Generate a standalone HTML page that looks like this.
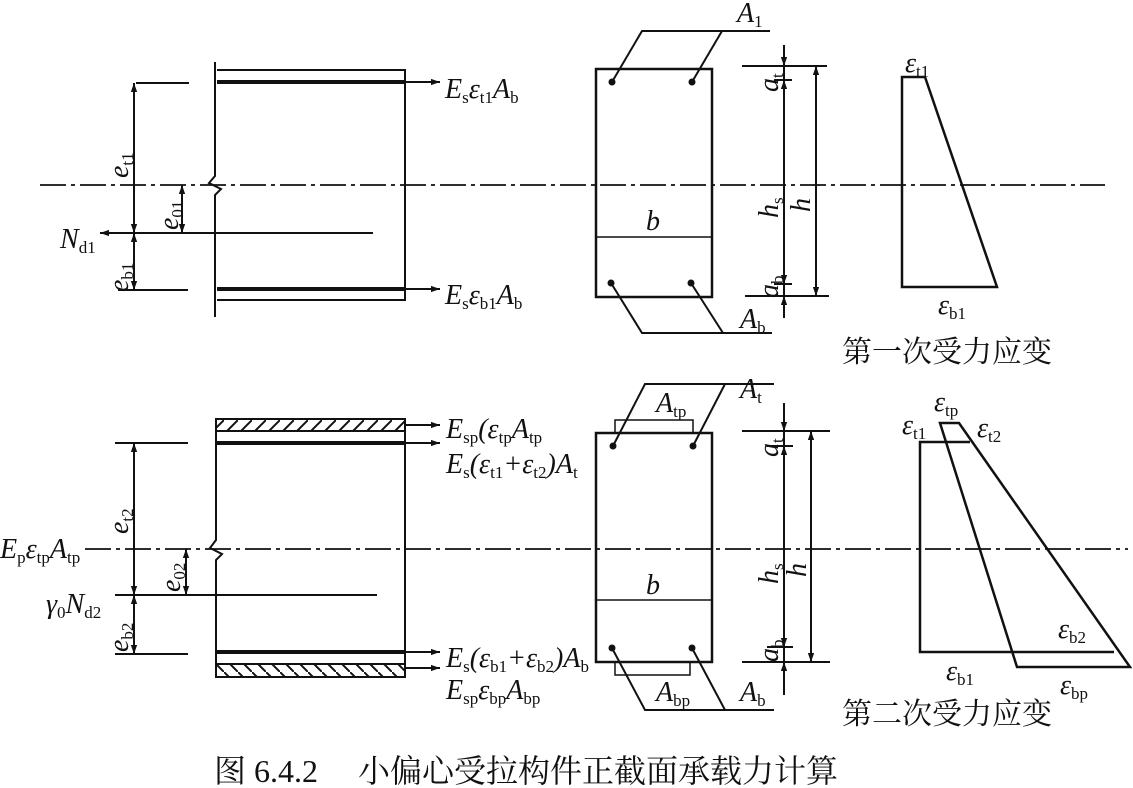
<!DOCTYPE html>
<html><head><meta charset="utf-8"><style>
html,body{margin:0;padding:0;background:#fff;}
svg{display:block;}
.v{font-family:"Liberation Serif",serif;font-style:italic;font-size:28px;fill:#111;}
.s{font-size:17px;font-style:normal;}
.c{font-family:"Liberation Serif","Noto Serif CJK SC",serif;font-size:30px;fill:#111;}
</style></head><body>
<svg width="1133" height="788" viewBox="0 0 1133 788" xmlns="http://www.w3.org/2000/svg">
<defs>
<marker id="a" viewBox="0 0 10 10" refX="10" refY="5" markerWidth="9" markerHeight="9" orient="auto-start-reverse" markerUnits="userSpaceOnUse"><path d="M0,1.5L10,5L0,8.5z" fill="#111"/></marker>
<pattern id="h" width="14" height="14" patternUnits="userSpaceOnUse"><path d="M0,14L14,0" stroke="#111" stroke-width="2"/></pattern>
<pattern id="h2" width="14" height="14" patternUnits="userSpaceOnUse"><path d="M0,0L14,14" stroke="#111" stroke-width="2"/></pattern>
</defs>
<g stroke="#111" fill="none" stroke-width="2">
<path d="M40,185H1105" stroke-dasharray="26,5,4,5" stroke-width="1.8"/>
<path d="M85,549H1128" stroke-dasharray="26,5,4,5" stroke-width="1.8"/>

<path d="M215,62V176l-6,7l12,6l-6,6V317"/>
<path d="M217,70H405V300H217"/>
<path d="M217,82H405" stroke-width="4"/>
<path d="M217,289H405" stroke-width="4"/>
<path d="M405,82H440" marker-end="url(#a)"/>
<path d="M405,289H440" marker-end="url(#a)"/>
<path d="M136,83H189M118,290H188"/>
<path d="M134,83V290" />
<path d="M134,90V83" marker-end="url(#a)"/>
<path d="M134,222V233" marker-end="url(#a)"/>
<path d="M134,242V233" marker-end="url(#a)"/>
<path d="M134,280V290" marker-end="url(#a)"/>
<path d="M182,185V233"/>
<path d="M182,195V185" marker-end="url(#a)"/>
<path d="M182,222V233" marker-end="url(#a)"/>
<path d="M373,233H100" marker-end="url(#a)"/>

<rect x="596" y="69" width="116" height="228" stroke-width="2.5"/>
<path d="M596,237H712" stroke-width="1.5"/>
<path d="M612,82L642,31H770M692,82L722,31"/>
<path d="M611,283L642,333H772M691,283L723,333"/>
<path d="M742,66H827M745,296H829M774,80H792M774,284H792"/>
<path d="M784,45V318"/>
<path d="M784,56V66" marker-end="url(#a)"/>
<path d="M784,90V80" marker-end="url(#a)"/>
<path d="M784,274V284" marker-end="url(#a)"/>
<path d="M784,306V296" marker-end="url(#a)"/>
<path d="M816,66V296" marker-start="url(#a)" marker-end="url(#a)"/>
<path d="M902,77H925L997,287H902Z" stroke-width="2.5"/>

<rect x="216" y="419" width="189" height="12" fill="url(#h)"/>
<rect x="216" y="664" width="189" height="13" fill="url(#h2)"/>
<path d="M216,431V540l-6,8l12,6l-6,6V664"/>
<path d="M405,431V664"/>
<path d="M216,443H405" stroke-width="4"/>
<path d="M216,652H405" stroke-width="4"/>
<path d="M405,425H440" marker-end="url(#a)"/>
<path d="M405,443H440" marker-end="url(#a)"/>
<path d="M405,652H440" marker-end="url(#a)"/>
<path d="M405,668H440" marker-end="url(#a)"/>
<path d="M115,443H188M115,654H188"/>
<path d="M134,443V654"/>
<path d="M134,452V443" marker-end="url(#a)"/>
<path d="M134,585V595" marker-end="url(#a)"/>
<path d="M134,605V595" marker-end="url(#a)"/>
<path d="M134,644V654" marker-end="url(#a)"/>
<path d="M186,549V595"/>
<path d="M186,559V549" marker-end="url(#a)"/>
<path d="M186,585V595" marker-end="url(#a)"/>
<path d="M115,595H377"/>

<rect x="596" y="433" width="116" height="229" stroke-width="2.5"/>
<path d="M615,433V420H693V433" stroke-width="1.5"/>
<path d="M615,662V675H690V662" stroke-width="1.5"/>
<path d="M596,600H712" stroke-width="1.5"/>
<path d="M613,446L645,384H774M693,446L725,384"/>
<path d="M612,648L645,710H774M692,648L725,710"/>
<path d="M742,431H830M742,662H830M767,446H793M767,647H793"/>
<path d="M784,403V695"/>
<path d="M784,421V431" marker-end="url(#a)"/>
<path d="M784,456V446" marker-end="url(#a)"/>
<path d="M784,637V647" marker-end="url(#a)"/>
<path d="M784,672V662" marker-end="url(#a)"/>
<path d="M811,431V662" marker-start="url(#a)" marker-end="url(#a)"/>
<path d="M970,442H920V652H1114" stroke-width="2.5"/>
<path d="M940,423H959L1130,667H1017Z" stroke-width="2.5"/>
</g>
<g fill="#111">
<circle cx="612" cy="82" r="3.5"/><circle cx="692" cy="82" r="3.5"/>
<circle cx="611" cy="283" r="3.5"/><circle cx="691" cy="283" r="3.5"/>
<circle cx="613" cy="446" r="3.5"/><circle cx="693" cy="446" r="3.5"/>
<circle cx="612" cy="648" r="3.5"/><circle cx="692" cy="648" r="3.5"/>
</g>

<text class="v" x="445" y="98">E<tspan class="s" dy="5">s</tspan><tspan dy="-5">ε</tspan><tspan class="s" dy="5">t1</tspan><tspan dy="-5">A</tspan><tspan class="s" dy="5">b</tspan></text>
<text class="v" x="445" y="304">E<tspan class="s" dy="5">s</tspan><tspan dy="-5">ε</tspan><tspan class="s" dy="5">b1</tspan><tspan dy="-5">A</tspan><tspan class="s" dy="5">b</tspan></text>
<text class="v" x="60" y="248">N<tspan class="s" dy="5">d1</tspan></text>
<text class="v" transform="translate(128,178) rotate(-90)">e<tspan class="s" dy="5">t1</tspan></text>
<text class="v" transform="translate(178,230) rotate(-90)">e<tspan class="s" dy="5">01</tspan></text>
<text class="v" transform="translate(128,292) rotate(-90)">e<tspan class="s" dy="5">b1</tspan></text>
<text class="v" x="646" y="230">b</text>
<text class="v" x="737" y="22">A<tspan class="s" dy="5">1</tspan></text>
<text class="v" x="740" y="328">A<tspan class="s" dy="5">b</tspan></text>
<text class="v" transform="translate(778,92) rotate(-90)">a<tspan class="s" dy="5">t</tspan></text>
<text class="v" transform="translate(778,298) rotate(-90)">a<tspan class="s" dy="5">b</tspan></text>
<text class="v" transform="translate(778,218) rotate(-90)">h<tspan class="s" dy="5">s</tspan></text>
<text class="v" transform="translate(810,212) rotate(-90)">h</text>
<text class="v" x="905" y="72">ε<tspan class="s" dy="5">t1</tspan></text>
<text class="v" x="938" y="314">ε<tspan class="s" dy="5">b1</tspan></text>
<text class="c" x="842" y="362">第一次受力应变</text>

<text class="v" x="446" y="438">E<tspan class="s" dy="5">sp</tspan><tspan dy="-5">(ε</tspan><tspan class="s" dy="5">tp</tspan><tspan dy="-5">A</tspan><tspan class="s" dy="5">tp</tspan></text>
<text class="v" x="446" y="473">E<tspan class="s" dy="5">s</tspan><tspan dy="-5">(ε</tspan><tspan class="s" dy="5">t1</tspan><tspan dy="-5">+ε</tspan><tspan class="s" dy="5">t2</tspan><tspan dy="-5">)A</tspan><tspan class="s" dy="5">t</tspan></text>
<text class="v" x="446" y="667">E<tspan class="s" dy="5">s</tspan><tspan dy="-5">(ε</tspan><tspan class="s" dy="5">b1</tspan><tspan dy="-5">+ε</tspan><tspan class="s" dy="5">b2</tspan><tspan dy="-5">)A</tspan><tspan class="s" dy="5">b</tspan></text>
<text class="v" x="446" y="699">E<tspan class="s" dy="5">sp</tspan><tspan dy="-5">ε</tspan><tspan class="s" dy="5">bp</tspan><tspan dy="-5">A</tspan><tspan class="s" dy="5">bp</tspan></text>
<text class="v" x="0" y="558">E<tspan class="s" dy="5">p</tspan><tspan dy="-5">ε</tspan><tspan class="s" dy="5">tp</tspan><tspan dy="-5">A</tspan><tspan class="s" dy="5">tp</tspan></text>
<text class="v" x="46" y="613">γ<tspan class="s" dy="5">0</tspan><tspan dy="-5">N</tspan><tspan class="s" dy="5">d2</tspan></text>
<text class="v" transform="translate(128,534) rotate(-90)">e<tspan class="s" dy="5">t2</tspan></text>
<text class="v" transform="translate(180,592) rotate(-90)">e<tspan class="s" dy="5">02</tspan></text>
<text class="v" transform="translate(128,652) rotate(-90)">e<tspan class="s" dy="5">b2</tspan></text>
<text class="v" x="646" y="594">b</text>
<text class="v" x="740" y="398">A<tspan class="s" dy="5">t</tspan></text>
<text class="v" x="656" y="412">A<tspan class="s" dy="5">tp</tspan></text>
<text class="v" x="656" y="701">A<tspan class="s" dy="5">bp</tspan></text>
<text class="v" x="740" y="701">A<tspan class="s" dy="5">b</tspan></text>
<text class="v" transform="translate(778,457) rotate(-90)">a<tspan class="s" dy="5">t</tspan></text>
<text class="v" transform="translate(778,662) rotate(-90)">a<tspan class="s" dy="5">b</tspan></text>
<text class="v" transform="translate(778,584) rotate(-90)">h<tspan class="s" dy="5">s</tspan></text>
<text class="v" transform="translate(806,577) rotate(-90)">h</text>
<text class="v" x="902" y="434">ε<tspan class="s" dy="5">t1</tspan></text>
<text class="v" x="934" y="411">ε<tspan class="s" dy="5">tp</tspan></text>
<text class="v" x="977" y="437">ε<tspan class="s" dy="5">t2</tspan></text>
<text class="v" x="1058" y="638">ε<tspan class="s" dy="5">b2</tspan></text>
<text class="v" x="946" y="680">ε<tspan class="s" dy="5">b1</tspan></text>
<text class="v" x="1060" y="694">ε<tspan class="s" dy="5">bp</tspan></text>
<text class="c" x="842" y="724">第二次受力应变</text>

<text class="c" x="214" y="782" style="font-size:32px">图 6.4.2　 小偏心受拉构件正截面承载力计算</text>
</svg>
</body></html>
